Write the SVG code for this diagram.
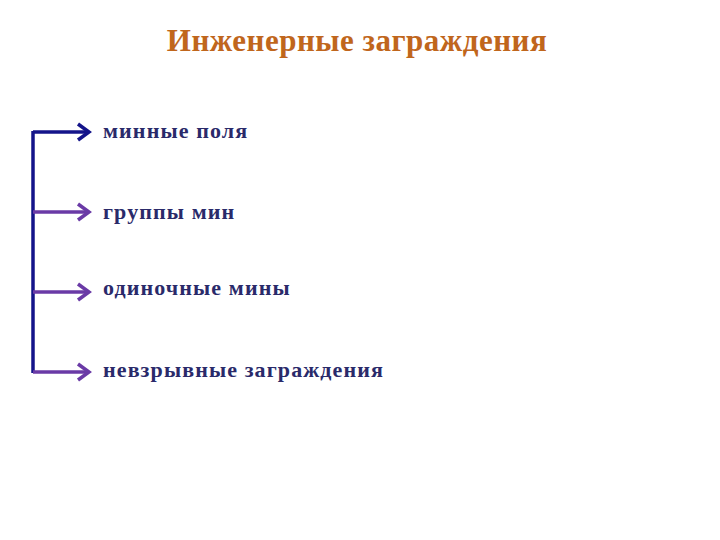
<svg xmlns="http://www.w3.org/2000/svg" width="720" height="540" viewBox="0 0 720 540">
<style>
.title{font-family:"Liberation Serif","Times New Roman",serif;font-size:31px;font-weight:bold;fill:#c0661c;letter-spacing:0.5px}
.item{font-family:"Liberation Serif","Times New Roman",serif;font-size:22px;font-weight:bold;fill:#2a2a6a;letter-spacing:1.1px}
.c{fill:none;stroke-width:3.5;stroke-linecap:butt;stroke-linejoin:miter}
.blue{stroke:#14148a}
.purple{stroke:#6a3aa6}
</style>
<rect width="720" height="540" fill="#ffffff"/>
<g id="title"><text class="title" x="357" y="51" text-anchor="middle">Инженерные заграждения</text></g>
<g id="connectors">
<path class="c blue" d="M33 131 V373"/>
<path class="c blue" d="M33 132 H88"/>
<path class="c blue" d="M78 124 L89 132 L78 140"/>
<path class="c purple" d="M33 212 H88"/>
<path class="c purple" d="M78 204 L89 212 L78 220"/>
<path class="c purple" d="M33 292 H88"/>
<path class="c purple" d="M78 284 L89 292 L78 300"/>
<path class="c purple" d="M33 372 H88"/>
<path class="c purple" d="M78 364 L89 372 L78 380"/>
</g>
<g id="n1"><text class="item" x="103" y="138">минные поля</text></g>
<g id="n2"><text class="item" x="103" y="219">группы мин</text></g>
<g id="n3"><text class="item" x="103" y="295">одиночные мины</text></g>
<g id="n4"><text class="item" x="103" y="377">невзрывные заграждения</text></g>
</svg>
